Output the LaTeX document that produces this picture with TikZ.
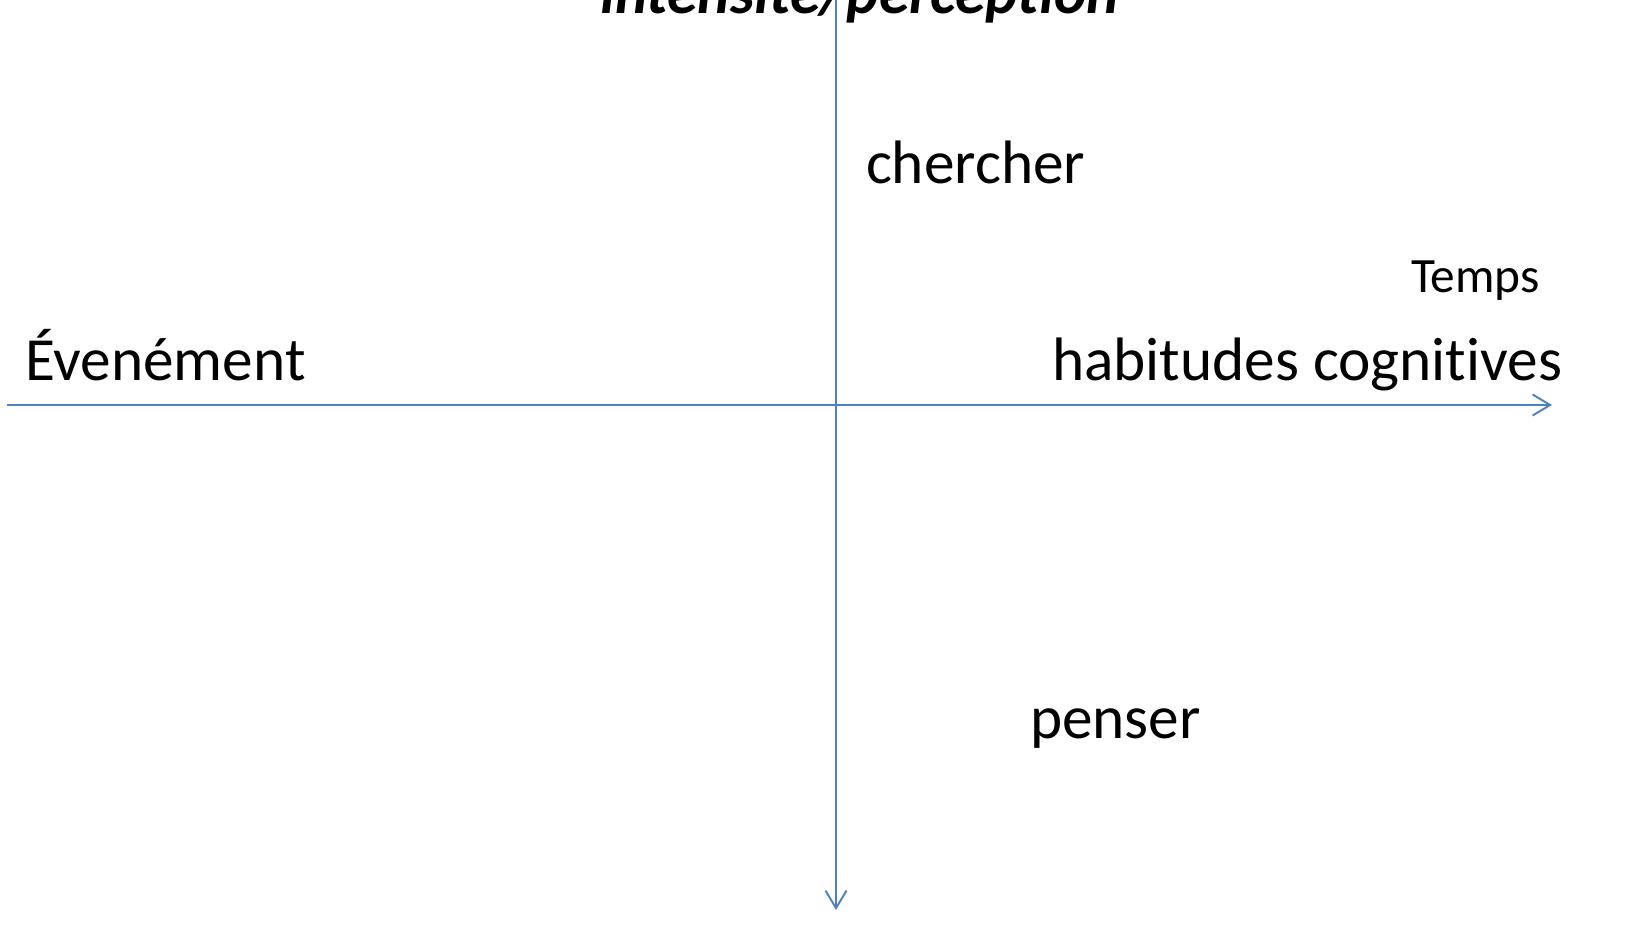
\documentclass[tikz,border=0pt]{standalone}
\usepackage{fontspec}
\setmainfont{Carlito}[Ligatures=NoCommon]
\usetikzlibrary{arrows.meta}
\definecolor{axisblue}{HTML}{4F81BD}
\begin{document}
\begin{tikzpicture}[x=0.02cm,y=-0.02cm,every node/.style={inner sep=0pt,outer sep=0pt,anchor=base west}]
	\tikzstyle{axis}=[draw=axisblue,line width=1.1pt,-{Straight Barb[length=10pt,width=12pt,line width=1.1pt]}]
	\tikzstyle{big}=[font=\fontsize{34.9}{40}\selectfont]
	\tikzstyle{small}=[font=\fontsize{28.1}{32}\selectfont]
	
	\useasboundingbox (0,0) rectangle (1628,947);										% Rahmen
	
	\coordinate (left) at (7,405);
	\coordinate (right) at (1552,405);
	\coordinate (top) at (836,0);
	\coordinate (bottom) at (836,910);
	
	\draw [axis] (left) -- (right);														% Zeitachse
	\draw [axis] (top) -- (bottom);														% Intensitaet
	
	\node (intens) [font=\fontsize{34.9}{40}\selectfont\bfseries\itshape] at (600,13) {intensité/perception};
	\node (chercher) [big] at (866,183) {chercher};
	\node (temps) [small] at (1411,292) {Temps};
	\node (event) [big] at (25,380) {Évenément};
	\node (habit) [big] at (1052,380) {habitudes cognitives};
	\node (penser) [big] at (1030,738) {penser};
\end{tikzpicture}
\end{document}
